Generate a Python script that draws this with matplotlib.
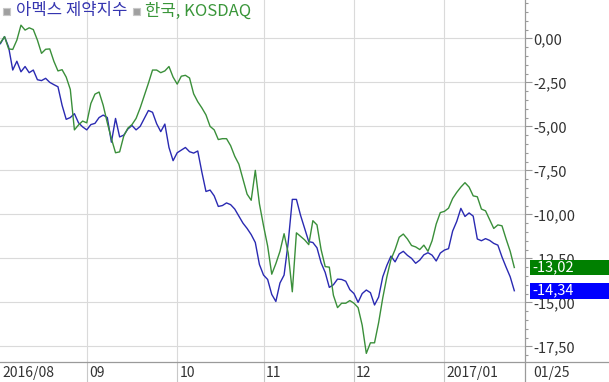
import numpy as np
import pandas as pd
import matplotlib
matplotlib.use('Agg')
import matplotlib.pyplot as plt
from matplotlib.lines import Line2D
from matplotlib.patches import Rectangle
from matplotlib.ticker import MultipleLocator, FixedLocator
from matplotlib import transforms

plt.rcParams['font.family'] = ['Noto Sans CJK KR', 'DejaVu Sans']

# trading days shown on the chart
dates = pd.bdate_range('2016-08-03', '2017-01-25')

# 아멕스 제약지수 (blue), % change
pharma = [
    -0.3, 0.1, -0.5, -1.8, -1.3, -1.9, -1.6, -1.95, -1.8, -2.35,
    -2.4, -2.27, -2.5, -2.63, -2.75, -3.8, -4.6, -4.5, -4.28, -4.8,
    -5.03, -5.2, -4.9, -4.83, -4.5, -4.36, -4.5, -5.9, -4.55, -5.6,
    -5.5, -5.15, -4.95, -5.2, -5.0, -4.55, -4.1, -4.2, -4.85, -5.3,
    -4.87, -6.2, -6.95, -6.5, -6.35, -6.2, -6.44, -6.52, -6.4, -7.6,
    -8.7, -8.62, -8.95, -9.55, -9.5, -9.35, -9.45, -9.7, -10.1, -10.5,
    -10.8, -11.15, -11.6, -12.85, -13.45, -13.7, -14.55, -14.95, -13.9, -13.45,
    -11.6, -9.15, -9.15, -10.05, -10.8, -11.55, -11.6, -11.9, -12.75, -13.3,
    -14.15, -14.0, -13.68, -13.7, -13.8, -14.28, -14.5, -15.0, -14.5, -14.3,
    -14.45, -15.15, -14.7, -13.55, -12.9, -12.37, -12.7, -12.25, -12.1, -12.33,
    -12.5, -12.78, -12.6, -12.3, -12.18, -12.32, -12.65, -12.2, -12.03, -11.95,
    -10.95, -10.4, -9.66, -10.12, -9.92, -10.1, -11.4, -11.5, -11.38, -11.48,
    -11.65, -11.75, -12.42, -13.0, -13.55, -14.34,
]

# 한국, KOSDAQ (green), % change
kosdaq = [
    -0.25, 0.1, -0.6, -0.63, -0.1, 0.75, 0.47, 0.6, 0.5, -0.1,
    -0.85, -0.62, -0.6, -1.3, -1.85, -1.78, -2.2, -2.9, -5.2, -4.92,
    -4.7, -4.8, -3.7, -3.17, -3.05, -3.8, -4.8, -5.7, -6.5, -6.45,
    -5.55, -5.1, -4.9, -4.55, -3.95, -3.25, -2.55, -1.8, -1.8, -1.95,
    -1.85, -1.6, -2.2, -2.6, -2.15, -2.1, -2.25, -3.15, -3.6, -3.95,
    -4.35, -5.0, -5.2, -5.75, -5.7, -5.7, -6.1, -6.7, -7.15, -8.0,
    -8.85, -9.2, -7.5, -9.4, -10.65, -11.8, -13.4, -12.8, -12.1, -11.1,
    -12.2, -14.4, -11.05, -11.25, -11.45, -11.72, -10.36, -10.6, -12.0, -12.97,
    -13.0, -14.6, -15.3, -15.05, -15.05, -14.9, -15.05, -15.3, -16.3, -17.9,
    -17.3, -17.3, -16.15, -14.75, -13.55, -12.56, -12.0, -11.3, -11.12, -11.4,
    -11.77, -11.85, -12.0, -11.75, -12.1, -11.5, -10.55, -9.9, -9.83, -9.65,
    -9.1, -8.75, -8.45, -8.2, -8.45, -8.95, -9.0, -9.7, -9.8, -10.3,
    -10.8, -10.6, -10.65, -11.4, -12.1, -13.02,
]

series_names = ['아멕스 제약지수', '한국, KOSDAQ']
line_colors = ['#2a2ab2', '#3a8f3a']
text_colors = ['#3535b0', '#3a963a']
box_colors = ['#0000ff', '#008000']
month_labels = ['2016/08', '09', '10', '11', '12', '2017/01']
yticks = [0, -2.5, -5, -7.5, -10, -12.5, -15, -17.5]

W, H = 609, 382
fig = plt.figure(figsize=(W / 100, H / 100), dpi=100)
ax = fig.add_axes([0, 20 / H, 525 / W, 362 / H])

x = np.arange(len(dates))
ax.plot(x, pharma, color=line_colors[0], lw=1.0, zorder=3)
ax.plot(x, kosdaq, color=line_colors[1], lw=1.0, zorder=3)

ax.set_xlim(-0.1, 127.6)
ax.set_ylim(-18.39, 2.18)

# month boundaries
month_idx = [i for i in range(1, len(dates)) if dates[i].month != dates[i - 1].month]
ax.xaxis.set_major_locator(FixedLocator(month_idx))
ax.tick_params(axis='x', direction='out', length=20 / 1.389, width=0.8,
               color='#c8c8c8', labelbottom=False)
for pos, lab in zip([ax.get_xlim()[0]] + month_idx, month_labels):
    ax.annotate(lab, xy=(pos, 0), xycoords=('data', 'axes fraction'),
                xytext=(1.5, -3), textcoords='offset points',
                ha='left', va='top', fontsize=10, color='#333333')

# right value axis
ax.yaxis.tick_right()
ax.set_yticks(yticks)
ax.set_yticklabels([f'{v:.2f}'.replace('.', ',') for v in yticks])
ax.yaxis.set_minor_locator(MultipleLocator(0.5))
ax.tick_params(axis='y', which='major', direction='out', length=5, width=0.8,
               color='#999999', pad=1, labelsize=10.5, labelcolor='#333333')
ax.tick_params(axis='y', which='minor', direction='out', length=2.5, width=0.8,
               color='#999999')

ax.grid(True, which='major', color='#dadada', lw=0.8)
ax.set_axisbelow(True)
for s in ax.spines.values():
    s.set_visible(False)

# frame lines
fig.add_artist(Line2D([0, 1], [20 / H, 20 / H], color='#9a9a9a', lw=0.9,
                      transform=fig.transFigure))
fig.add_artist(Line2D([525 / W, 525 / W], [0, 1], color='#9a9a9a', lw=0.9,
                      transform=fig.transFigure))

# last date label
fig.text(533 / W, 9 / H, dates[-1].strftime('%m/%d'), fontsize=10,
         color='#333333', va='center', ha='left')

# last value boxes
trans = transforms.blended_transform_factory(fig.transFigure, ax.transData)
for vals, col in [(kosdaq, box_colors[1]), (pharma, box_colors[0])]:
    v = vals[-1]
    ax.add_patch(Rectangle((530 / W, v - 0.45), 79 / W, 0.9, transform=trans,
                           facecolor=col, edgecolor='none', clip_on=False, zorder=5))
    ax.text(532 / W, v, f'{v:.2f}'.replace('.', ','), transform=trans,
            color='white', va='center', ha='left', fontsize=10.5,
            clip_on=False, zorder=6)

# legend
for xs, xt, name, col in [(3, 16, series_names[0], text_colors[0]),
                          (133, 145, series_names[1], text_colors[1])]:
    fig.add_artist(Rectangle((xs / W, 1 - 15 / H), 7 / W, 7 / H,
                             transform=fig.transFigure, facecolor='#a0a0a0',
                             edgecolor='#c8c8c8', lw=0.8))
    fig.text(xt / W, 1 - 11 / H, name, color=col, fontsize=12, va='center', ha='left')

plt.savefig('out.png', dpi=100)
